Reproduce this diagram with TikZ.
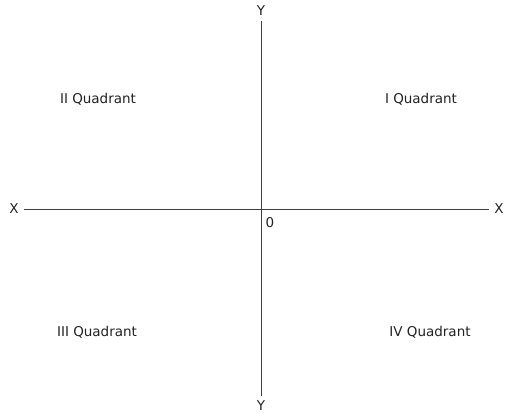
\documentclass[tikz,border=0pt]{standalone}
\usepackage{fontspec}
\setmainfont{DejaVu Sans}
\definecolor{axisgray}{HTML}{404040}
\definecolor{textgray}{HTML}{222222}
\begin{document}
\begin{tikzpicture}[x=1pt,y=-1pt,
		lbl/.style={font=\fontsize{13.5}{15}\selectfont,text=textgray,inner sep=0pt},
		axislbl/.style={lbl,inner sep=1pt,outer sep=4.5pt}]
		\useasboundingbox (0,0) rectangle (506,414);
		% axis labels
		\node[axislbl] (xl) at (14,209) {X};
		\node[axislbl] (xr) at (499,209) {X};
		\node[axislbl] (yt) at (261,11) {Y};
		\node[axislbl] (yb) at (261,406) {Y};
		\node[lbl] (o) at (270,223) {0};
		% axes
		\draw[axisgray,line width=0.9pt] (xl) -- (xr);
		\draw[axisgray,line width=0.9pt] (yt) -- (yb);
		% quadrants
		\node[lbl] (q1) at (421,99) {I Quadrant};
		\node[lbl] (q2) at (98,99) {II Quadrant};
		\node[lbl] (q3) at (97,332) {III Quadrant};
		\node[lbl] (q4) at (430,332) {IV Quadrant};
	\end{tikzpicture}
\end{document}
